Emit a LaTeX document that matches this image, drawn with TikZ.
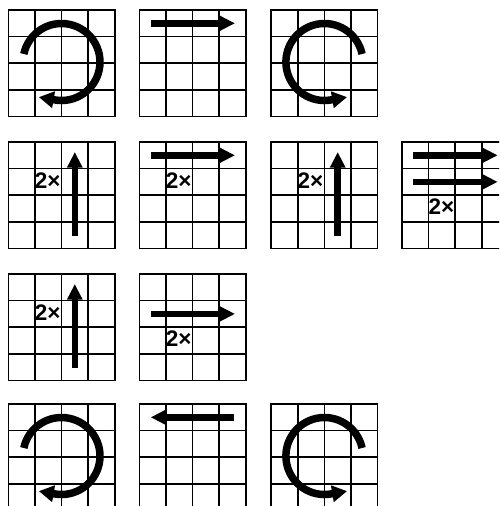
\documentclass[tikz,border=0pt]{standalone}
\usepackage{fontspec}
\setmainfont{Liberation Sans}
\usetikzlibrary{arrows.meta}
\tikzset{
  gridline/.style={line width=1.6pt, line cap=rect, black},
  straightarrow/.style={line width=6.5pt, -{Triangle[length=15.5pt,width=14.5pt]}},
  roundarrow/.style={line width=7.5pt, -{Triangle[length=15pt,width=16pt]}},
  timeslabel/.style={anchor=west, inner sep=0pt, text depth=0pt, font=\bfseries\fontsize{22.5}{22.5}\selectfont},
}
\newcommand{\panelgrid}[2]{%
  \foreach \i in {0,...,4}{%
    \draw[gridline] ({#1+\i*26.6},{-#2}) -- ({#1+\i*26.6},{-#2-106.4});
    \draw[gridline] ({#1},{-#2-\i*26.6}) -- ({#1+106.4},{-#2-\i*26.6});
  }}
\newcommand{\rarrow}[3]{\draw[straightarrow] ({#1+11.4},{-#2-13.3-26.6*#3}) -- ({#1+95.7},{-#2-13.3-26.6*#3});}
\newcommand{\larrow}[2]{\draw[straightarrow] ({#1+94.7},{-#2-13.3}) -- ({#1+11.4},{-#2-13.3});}
\newcommand{\uarrow}[2]{\draw[straightarrow] ({#1+66.5},{-#2-94}) -- ({#1+66.5},{-#2-10});}
\newcommand{\twotimes}[4]{\node[timeslabel] (#1) at ({#2+26.3},{-#3-13.3-26.6*#4+1.5}) {2×};}
\newcommand{\cwarc}[2]{\draw[roundarrow] ({#1+53.2-37.66},{-#2-52+8.0}) arc[start angle=168,end angle=-100,radius=38.5] -- ++(-16,2.8);}
\newcommand{\ccwarc}[2]{\draw[roundarrow] ({#1+53.2+37.66},{-#2-52+8.0}) arc[start angle=12,end angle=280,radius=38.5] -- ++(16,2.8);}
\begin{document}
\begin{tikzpicture}[x=1pt,y=1pt]
  \useasboundingbox (0,0) rectangle (499,-506);
  \clip (0,0) rectangle (499,-506);
  % row 1
  \panelgrid{8.3}{10}   \cwarc{8.3}{10}
  \panelgrid{139.3}{10} \rarrow{139.3}{10}{0}
  \panelgrid{271.2}{10} \ccwarc{271.2}{10}
  % row 2
  \panelgrid{8.3}{142}   \uarrow{8.3}{142}   \twotimes{ta}{8.3}{142}{1}
  \panelgrid{139.3}{142} \rarrow{139.3}{142}{0} \twotimes{tb}{139.3}{142}{1}
  \panelgrid{271.2}{142} \uarrow{271.2}{142} \twotimes{tc}{271.2}{142}{1}
  \panelgrid{402}{142}   \rarrow{402}{142}{0} \rarrow{402}{142}{1} \twotimes{td}{402}{142}{2}
  % row 3
  \panelgrid{8.3}{274}   \uarrow{8.3}{274}   \twotimes{te}{8.3}{274}{1}
  \panelgrid{139.3}{274} \rarrow{139.3}{274}{1} \twotimes{tf}{139.3}{274}{2}
  % row 4
  \panelgrid{8.3}{404}   \cwarc{8.3}{404}
  \panelgrid{139.3}{404} \larrow{139.3}{404}
  \panelgrid{271.2}{404} \ccwarc{271.2}{404}
\end{tikzpicture}
\end{document}
